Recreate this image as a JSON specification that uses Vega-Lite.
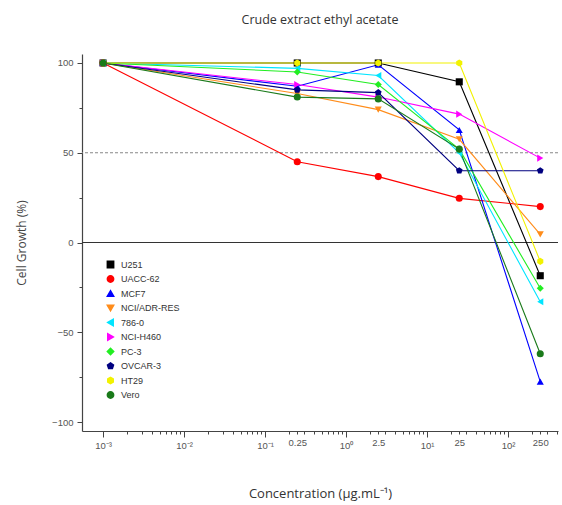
{
  "$schema": "https://vega.github.io/schema/vega-lite/v6.json",
  "width": 476,
  "height": 377,
  "autosize": "none",
  "padding": {"left": 82, "top": 54, "right": 4, "bottom": 74},
  "background": "white",
  "config": {
    "view": {"stroke": null},
    "font": "Liberation Sans",
    "legend": {
      "title": null,
      "orient": "none",
      "legendX": 24,
      "legendY": 206,
      "labelFontSize": 9,
      "labelColor": "#333333",
      "symbolSize": 40,
      "rowPadding": 1.5,
      "padding": 0,
      "labelOffset": 6
    }
  },
  "title": {
    "text": "Crude extract ethyl acetate",
    "font": "Open Sans",
    "fontSize": 12.5,
    "fontWeight": "normal",
    "color": "#333333",
    "anchor": "middle",
    "frame": "group",
    "offset": 28
  },
  "layer": [
    {
      "data": {"values": [{"ref": 50}]},
      "mark": {"type": "rule", "color": "#888888", "strokeWidth": 1.2, "strokeDash": [3, 2]},
      "encoding": {"y": {"field": "ref", "type": "quantitative", "scale": {"domain": [-105, 105]}}}
    },
    {
      "data": {"values": [{"ref": 0}]},
      "mark": {"type": "rule", "color": "#333333", "strokeWidth": 1.2},
      "encoding": {"y": {"field": "ref", "type": "quantitative"}}
    },
    {
      "data": {"name": "growth"},
      "mark": {"type": "line", "strokeWidth": 1.1},
      "encoding": {
        "x": {
          "field": "conc",
          "type": "quantitative",
          "scale": {"type": "log", "domain": [0.00055, 414], "nice": false},
          "axis": {
            "title": "Concentration (µg.mL⁻¹)",
            "titleFont": "Open Sans",
            "titleFontSize": 13,
            "titleFontWeight": "normal",
            "titleColor": "#333333",
            "titleY": 56,
            "values": [0.001, 0.002, 0.003, 0.004, 0.005, 0.006, 0.007, 0.008, 0.009, 0.01, 0.02, 0.03, 0.04, 0.05, 0.06, 0.07, 0.08, 0.09, 0.1, 0.2, 0.25, 0.3, 0.4, 0.5, 0.6, 0.7, 0.8, 0.9, 1, 2, 2.5, 3, 4, 5, 6, 7, 8, 9, 10, 20, 25, 30, 40, 50, 60, 70, 80, 90, 100, 200, 250, 300, 400],
            "labelExpr": "datum.value == 0.001 ? '10⁻³' : datum.value == 0.01 ? '10⁻²' : datum.value == 0.1 ? '10⁻¹' : datum.value == 1 ? '10⁰' : datum.value == 10 ? '10¹' : datum.value == 100 ? '10²' : datum.value == 0.25 ? '0.25' : datum.value == 2.5 ? '2.5' : datum.value == 25 ? '25' : datum.value == 250 ? '250' : ''",
            "labelOverlap": false,
            "labelFlush": false,
            "labelFontSize": 9.5,
            "labelColor": "#555555",
            "labelPadding": 3,
            "tickSize": {"condition": {"test": "indexof([0.001,0.01,0.1,1,10,100], datum.value) >= 0", "value": 6}, "value": 3},
            "tickColor": "#444444",
            "domainColor": "#444444",
            "domainWidth": 1.2,
            "grid": false
          }
        },
        "y": {
          "field": "growth",
          "type": "quantitative",
          "scale": {"domain": [-105, 105], "nice": false},
          "axis": {
            "title": "Cell Growth (%)",
            "titleFont": "Open Sans",
            "titleFontSize": 12,
            "titleFontWeight": "normal",
            "titleColor": "#444444",
            "titleX": -54,
            "values": [-100, -75, -50, -25, 0, 25, 50, 75, 100],
            "labelExpr": "datum.value % 50 == 0 ? datum.label : ''",
            "labelFontSize": 9.5,
            "labelColor": "#555555",
            "labelPadding": 4,
            "tickSize": {"condition": {"test": "datum.value % 50 == 0", "value": 5}, "value": 3},
            "tickColor": "#444444",
            "domainColor": "#444444",
            "domainWidth": 1.2,
            "grid": false
          }
        },
        "color": {
          "field": "cell",
          "type": "nominal",
          "scale": {
            "domain": ["U251", "UACC-62", "MCF7", "NCI/ADR-RES", "786-0", "NCI-H460", "PC-3", "OVCAR-3", "HT29", "Vero"],
            "range": ["#000000", "#ff0000", "#0000ff", "#ff8c1a", "#00e5ff", "#ff00ff", "#22ee22", "#000080", "#f2f200", "#1a7a1a"]
          }
        },
        "order": {"field": "conc", "type": "quantitative"}
      }
    },
    {
      "data": {"name": "growth"},
      "mark": {"type": "point", "filled": true, "size": 50, "opacity": 1},
      "encoding": {
        "x": {"field": "conc", "type": "quantitative"},
        "y": {"field": "growth", "type": "quantitative"},
        "color": {"field": "cell", "type": "nominal"},
        "shape": {
          "field": "cell",
          "type": "nominal",
          "scale": {
            "domain": ["U251", "UACC-62", "MCF7", "NCI/ADR-RES", "786-0", "NCI-H460", "PC-3", "OVCAR-3", "HT29", "Vero"],
            "range": ["square", "circle", "triangle-up", "triangle-down", "triangle-left", "triangle-right", "diamond", "M0,-1L0.951,-0.309L0.588,0.809L-0.588,0.809L-0.951,-0.309Z", "M0,-1L0.866,-0.5L0.866,0.5L0,1L-0.866,0.5L-0.866,-0.5Z", "circle"]
          }
        }
      }
    }
  ],
  "datasets": {
    "growth": [
      {"cell": "U251", "conc": 0.001, "growth": 100},
      {"cell": "U251", "conc": 0.25, "growth": 100},
      {"cell": "U251", "conc": 2.5, "growth": 100},
      {"cell": "U251", "conc": 25, "growth": 89.5},
      {"cell": "U251", "conc": 250, "growth": -18.5},
      {"cell": "UACC-62", "conc": 0.001, "growth": 100},
      {"cell": "UACC-62", "conc": 0.25, "growth": 45},
      {"cell": "UACC-62", "conc": 2.5, "growth": 36.7},
      {"cell": "UACC-62", "conc": 25, "growth": 24.6},
      {"cell": "UACC-62", "conc": 250, "growth": 20},
      {"cell": "MCF7", "conc": 0.001, "growth": 100},
      {"cell": "MCF7", "conc": 0.25, "growth": 87},
      {"cell": "MCF7", "conc": 2.5, "growth": 99},
      {"cell": "MCF7", "conc": 25, "growth": 62.7},
      {"cell": "MCF7", "conc": 250, "growth": -77.5},
      {"cell": "NCI/ADR-RES", "conc": 0.001, "growth": 100},
      {"cell": "NCI/ADR-RES", "conc": 0.25, "growth": 83},
      {"cell": "NCI/ADR-RES", "conc": 2.5, "growth": 74},
      {"cell": "NCI/ADR-RES", "conc": 25, "growth": 57.5},
      {"cell": "NCI/ADR-RES", "conc": 250, "growth": 4.5},
      {"cell": "786-0", "conc": 0.001, "growth": 100},
      {"cell": "786-0", "conc": 0.25, "growth": 97},
      {"cell": "786-0", "conc": 2.5, "growth": 93},
      {"cell": "786-0", "conc": 25, "growth": 50},
      {"cell": "786-0", "conc": 250, "growth": -33},
      {"cell": "NCI-H460", "conc": 0.001, "growth": 100},
      {"cell": "NCI-H460", "conc": 0.25, "growth": 88},
      {"cell": "NCI-H460", "conc": 2.5, "growth": 81},
      {"cell": "NCI-H460", "conc": 25, "growth": 71.5},
      {"cell": "NCI-H460", "conc": 250, "growth": 47},
      {"cell": "PC-3", "conc": 0.001, "growth": 100},
      {"cell": "PC-3", "conc": 0.25, "growth": 95},
      {"cell": "PC-3", "conc": 2.5, "growth": 88},
      {"cell": "PC-3", "conc": 25, "growth": 52},
      {"cell": "PC-3", "conc": 250, "growth": -25.5},
      {"cell": "OVCAR-3", "conc": 0.001, "growth": 100},
      {"cell": "OVCAR-3", "conc": 0.25, "growth": 85},
      {"cell": "OVCAR-3", "conc": 2.5, "growth": 83.5},
      {"cell": "OVCAR-3", "conc": 25, "growth": 40},
      {"cell": "OVCAR-3", "conc": 250, "growth": 40},
      {"cell": "HT29", "conc": 0.001, "growth": 100},
      {"cell": "HT29", "conc": 0.25, "growth": 100},
      {"cell": "HT29", "conc": 2.5, "growth": 100},
      {"cell": "HT29", "conc": 25, "growth": 100},
      {"cell": "HT29", "conc": 250, "growth": -10.5},
      {"cell": "Vero", "conc": 0.001, "growth": 100},
      {"cell": "Vero", "conc": 0.25, "growth": 81},
      {"cell": "Vero", "conc": 2.5, "growth": 80},
      {"cell": "Vero", "conc": 25, "growth": 52},
      {"cell": "Vero", "conc": 250, "growth": -62}
    ]
  }
}
